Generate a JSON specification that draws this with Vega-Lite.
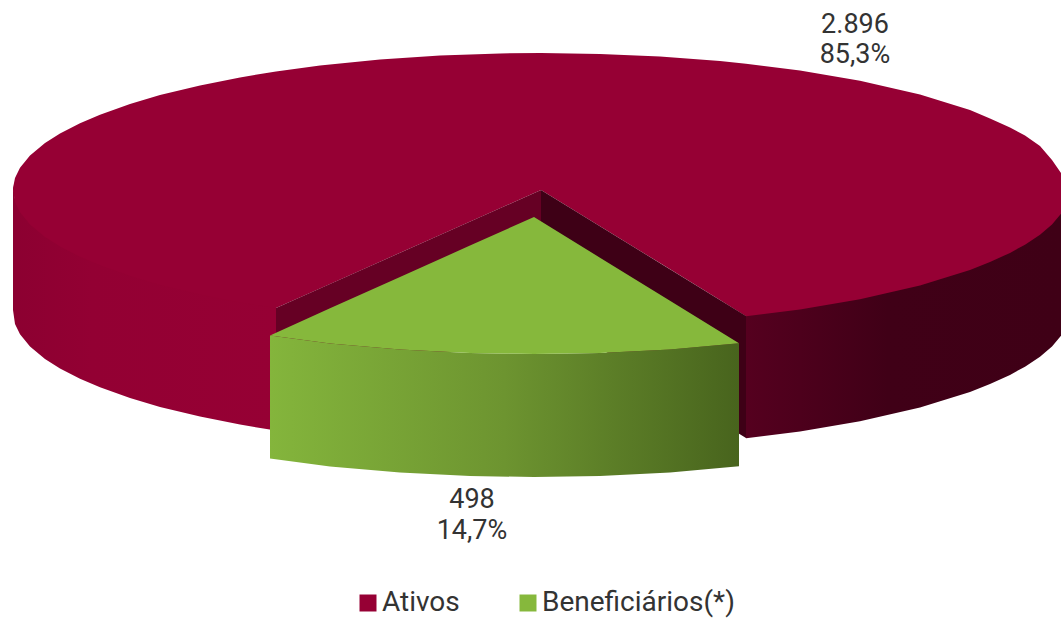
{"$schema":"https://vega.github.io/schema/vega-lite/v6.json","width":1061,"height":619,"padding":0,"autosize":{"type":"none"},"background":"white","config":{"view":{"stroke":null}},
"datasets":{
"paredeEsq":[{"x":13,"y":185,"y2":310},{"x":15,"y":198.9,"y2":323.9},{"x":20,"y":209.2,"y2":334.2},{"x":30,"y":221.5,"y2":346.5},{"x":45,"y":234,"y2":359},{"x":60,"y":243.5,"y2":368.5},{"x":80,"y":253.8,"y2":378.8},{"x":100,"y":262.3,"y2":387.3},{"x":130,"y":273,"y2":398},{"x":160,"y":281.9,"y2":406.9},{"x":200,"y":291.6,"y2":416.6},{"x":240,"y":299.6,"y2":424.6},{"x":276,"y":305.5,"y2":430.5}],
"paredeDir":[{"x":746,"y":314,"y2":438.3},{"x":800,"y":307,"y2":431.4},{"x":860,"y":297,"y2":421.2},{"x":920,"y":283,"y2":407.4},{"x":970,"y":267.5,"y2":391.9},{"x":990,"y":259.5,"y2":384.1},{"x":1010,"y":250.5,"y2":374.9},{"x":1025,"y":242.5,"y2":366.7},{"x":1040,"y":232.5,"y2":356.8},{"x":1052,"y":222,"y2":346.5},{"x":1061,"y":211.5,"y2":335.8}],
"topo":[{"serie":"Ativos","x":13,"y":188,"y2":190},{"serie":"Ativos","x":15,"y":178.1,"y2":201.9},{"serie":"Ativos","x":20,"y":167.8,"y2":212.2},{"serie":"Ativos","x":30,"y":155.5,"y2":224.5},{"serie":"Ativos","x":45,"y":143,"y2":237},{"serie":"Ativos","x":60,"y":133.5,"y2":246.5},{"serie":"Ativos","x":80,"y":123.2,"y2":256.8},{"serie":"Ativos","x":100,"y":114.7,"y2":265.3},{"serie":"Ativos","x":130,"y":104,"y2":276},{"serie":"Ativos","x":160,"y":95.1,"y2":284.9},{"serie":"Ativos","x":200,"y":85.4,"y2":294.6},{"serie":"Ativos","x":240,"y":77.4,"y2":302.6},{"serie":"Ativos","x":276,"y":71.5,"y2":308},{"serie":"Ativos","x":320,"y":65.6,"y2":288.4},{"serie":"Ativos","x":380,"y":59.5,"y2":261.7},{"serie":"Ativos","x":440,"y":55.5,"y2":235},{"serie":"Ativos","x":500,"y":53.4,"y2":208.3},{"serie":"Ativos","x":541,"y":53,"y2":190},{"serie":"Ativos","x":600,"y":53.9,"y2":226.3},{"serie":"Ativos","x":660,"y":56.5,"y2":263.1},{"serie":"Ativos","x":720,"y":61.1,"y2":300},{"serie":"Ativos","x":746,"y":63.7,"y2":316.3},{"serie":"Ativos","x":800,"y":70.6,"y2":309.4},{"serie":"Ativos","x":860,"y":80.8,"y2":299.2},{"serie":"Ativos","x":920,"y":94.6,"y2":285.4},{"serie":"Ativos","x":970,"y":110.1,"y2":269.9},{"serie":"Ativos","x":990,"y":118.5,"y2":262.1},{"serie":"Ativos","x":1010,"y":127.5,"y2":252.9},{"serie":"Ativos","x":1025,"y":135.5,"y2":244.7},{"serie":"Ativos","x":1040,"y":146,"y2":234.8},{"serie":"Ativos","x":1052,"y":160,"y2":224.5},{"serie":"Ativos","x":1061,"y":173,"y2":213.8}],
"corteEsq":[{"x":276,"y":308,"y2":430},{"x":541,"y":190,"y2":312}],
"corteDir":[{"x":541,"y":190,"y2":312},{"x":746,"y":316,"y2":438}],
"paredeVerde":[{"x":270,"y":335.4,"y2":458.4},{"x":330,"y":343.4,"y2":466.4},{"x":400,"y":349.5,"y2":472.5},{"x":470,"y":353,"y2":476},{"x":534,"y":354,"y2":477},{"x":600,"y":352.9,"y2":475.9},{"x":670,"y":349.4,"y2":472.4},{"x":739,"y":343.3,"y2":466.3}],
"topoVerde":[{"serie":"Beneficiários(*)","x":270,"y":335.4,"y2":335.4},{"serie":"Beneficiários(*)","x":330,"y":308.2,"y2":343.4},{"serie":"Beneficiários(*)","x":400,"y":276.9,"y2":349.5},{"serie":"Beneficiários(*)","x":470,"y":245.6,"y2":353},{"serie":"Beneficiários(*)","x":534,"y":217,"y2":354},{"serie":"Beneficiários(*)","x":600,"y":257.7,"y2":352.9},{"serie":"Beneficiários(*)","x":670,"y":300.8,"y2":349.4},{"serie":"Beneficiários(*)","x":739,"y":343.3,"y2":343.3}],
"rotulos":[{"serie":"Ativos","texto":"2.896","x":855,"y":25},{"serie":"Ativos","texto":"85,3%","x":855,"y":55},{"serie":"Beneficiários(*)","texto":"498","x":472,"y":500},{"serie":"Beneficiários(*)","texto":"14,7%","x":472,"y":531}]
},
"encoding":{"x":{"field":"x","type":"quantitative","axis":null,"scale":{"domain":[0,1061],"nice":false,"zero":false}},"y":{"field":"y","type":"quantitative","axis":null,"scale":{"domain":[619,0],"nice":false,"zero":false}}},
"layer":[
{"data":{"name":"paredeEsq"},"mark":{"type":"area","fill":{"gradient":"linear","x1":0,"y1":0,"x2":1,"y2":0,"stops":[{"offset":0,"color":"#8c0031"},{"offset":0.3,"color":"#930033"},{"offset":1,"color":"#960034"}]}},"encoding":{"y2":{"field":"y2"}}},
{"data":{"name":"paredeDir"},"mark":{"type":"area","fill":{"gradient":"linear","x1":0,"y1":0,"x2":1,"y2":0,"stops":[{"offset":0,"color":"#55001f"},{"offset":0.45,"color":"#400017"},{"offset":1,"color":"#3f0016"}]}},"encoding":{"y2":{"field":"y2"}}},
{"data":{"name":"topo"},"mark":{"type":"area"},"encoding":{"y2":{"field":"y2"},"color":{"field":"serie","type":"nominal","scale":{"domain":["Ativos","Beneficiários(*)"],"range":["#960034","#86b83c"]},"legend":{"title":null,"orient":"none","legendX":354,"legendY":589,"direction":"horizontal","columns":2,"columnPadding":54,"symbolType":"square","symbolSize":289,"symbolStrokeWidth":0,"labelFont":"Roboto","labelFontSize":28,"labelLimit":400,"labelColor":"#333333","labelOffset":0,"encode":{"symbols":{"update":{"fill":{"signal":"datum.value === 'Ativos' ? '#a5003e' : '#8fc73e'"},"opacity":{"value":1}}}}}}}},
{"data":{"name":"corteEsq"},"mark":{"type":"area","fill":"#660024"},"encoding":{"y2":{"field":"y2"}}},
{"data":{"name":"corteDir"},"mark":{"type":"area","fill":"#3e0016"},"encoding":{"y2":{"field":"y2"}}},
{"data":{"name":"paredeVerde"},"mark":{"type":"area","fill":{"gradient":"linear","x1":0,"y1":0,"x2":1,"y2":0,"stops":[{"offset":0,"color":"#84b53c"},{"offset":0.5,"color":"#6d9430"},{"offset":1,"color":"#48641d"}]}},"encoding":{"y2":{"field":"y2"}}},
{"data":{"name":"topoVerde"},"mark":{"type":"area"},"encoding":{"y2":{"field":"y2"},"color":{"field":"serie","type":"nominal"}}},
{"data":{"name":"rotulos"},"mark":{"type":"text","font":"Roboto","fontSize":27,"color":"#333333","align":"center","baseline":"middle"},"encoding":{"text":{"field":"texto"}}}
]}
